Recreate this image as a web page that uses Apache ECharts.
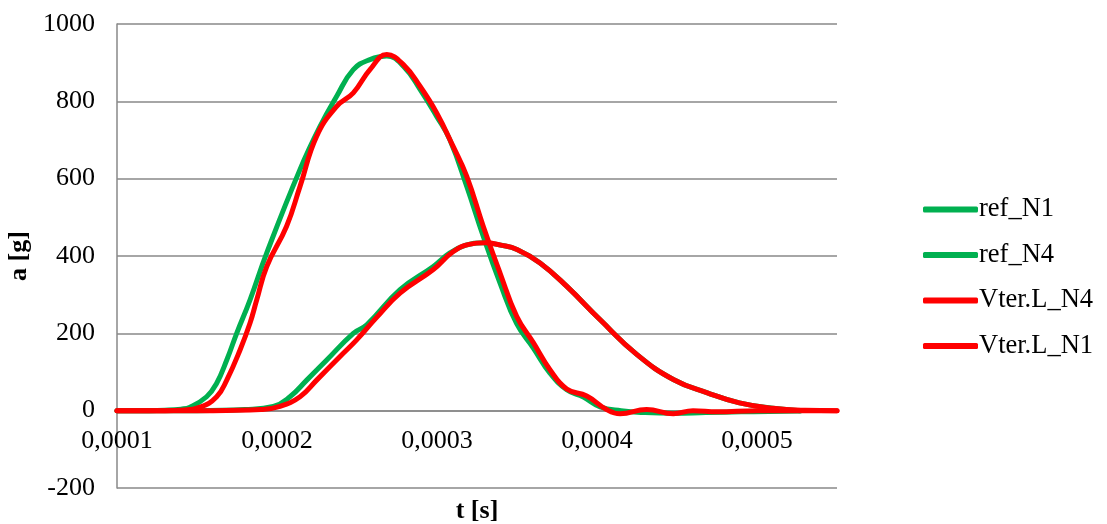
<!DOCTYPE html>
<html>
<head>
<meta charset="utf-8">
<script src="https://cdn.jsdelivr.net/npm/echarts@6/dist/echarts.min.js"></script>
<style>
html,body{margin:0;padding:0;background:#fff;}
#chart{width:1107px;height:524px;}
</style>
</head>
<body>
<div id="chart"></div>
<script>
// Data
var seriesNames = ['ref_N1', 'ref_N4', 'Vter.L_N4', 'Vter.L_N1'];

var refN1_t = [0.0001, 0.00012, 0.00013, 0.00014, 0.0001456, 0.000156, 0.0001623, 0.0001686, 0.0001748, 0.0001831, 0.0001936, 0.0002144, 0.0002269, 0.0002373, 0.0002477, 0.0002581, 0.0002686, 0.000279, 0.0002894, 0.0002998, 0.000308, 0.0003186, 0.0003289, 0.0003394, 0.0003498, 0.0003602, 0.0003706, 0.0003811, 0.0003915, 0.000402, 0.000415, 0.00043, 0.000448, 0.000468, 0.00049, 0.000527];
var refN1_a = [0, 0, 1, 4, 9, 36, 71, 131, 200, 286, 408, 624, 735, 813, 882, 908, 917, 891, 831, 761, 701, 580, 451, 330, 225, 162, 97, 54, 35, 10, 0, -5, -7, -5, -3, -1];

var refN4_t = [0.0001, 0.00015, 0.00018, 0.0001977, 0.0002081, 0.0002186, 0.0002311, 0.0002477, 0.0002561, 0.0002769, 0.0002977, 0.0003081, 0.000318, 0.000329, 0.00034, 0.00035, 0.0003644, 0.000381, 0.000402, 0.000425, 0.000448, 0.000469, 0.000489, 0.00051, 0.000527];
var refN4_a = [0, 0, 3, 11, 36, 79, 131, 200, 222, 313, 373, 408, 428, 434, 428, 417, 382, 322, 235, 145, 80, 46, 20, 6, 0];

var vterN4_t = [0.0001, 0.00016, 0.00019, 0.0002019, 0.0002144, 0.0002248, 0.0002394, 0.0002498, 0.000262, 0.0002769, 0.0002977, 0.00031, 0.00032, 0.00033, 0.00034, 0.00035, 0.0003644, 0.000381, 0.000402, 0.000425, 0.000448, 0.000469, 0.000489, 0.00051, 0.00053, 0.00055];
var vterN4_a = [0, 0, 3, 11, 36, 79, 140, 183, 240, 304, 365, 411, 430, 434, 428, 417, 382, 322, 235, 145, 80, 46, 20, 6, 1, 0];

var vterN1_t = [0.0001, 0.00013, 0.00014, 0.000152, 0.0001623, 0.0001686, 0.0001769, 0.0001831, 0.0001873, 0.0001936, 0.000206, 0.0002144, 0.0002248, 0.0002373, 0.0002477, 0.0002581, 0.0002686, 0.000279, 0.0002894, 0.0002998, 0.00031, 0.0003186, 0.0003289, 0.0003394, 0.0003498, 0.0003602, 0.0003706, 0.0003811, 0.0003936, 0.000406, 0.0004144, 0.000431, 0.0004477, 0.00046, 0.000475, 0.0005, 0.00055];
var vterN1_a = [0, 0, 1, 9, 36, 79, 157, 226, 286, 373, 477, 580, 710, 787, 822, 882, 921, 895, 839, 770, 684, 606, 477, 356, 244, 176, 106, 56, 38, 3, -8, 3, -8, 0, -3, 0, 0];

var xTickMin = 0.0001, xTickMax = 0.00055, xTickStep = 0.0001;
var yTickMin = -200, yTickMax = 1000, yTickStep = 200;

function pairs(t, a) { return t.map(function (v, i) { return [v, a[i]]; }); }

var FONT = "'Liberation Serif', 'Times New Roman', serif";
var GREEN = '#00B050', RED = '#FF0000', GRID = '#888888';

var GRID_TOP = 24, GRID_BOTTOM = 36, H = 524;
var plotH = H - GRID_TOP - GRID_BOTTOM;
// shift x axis up to the value 0 of the y axis
var zeroOffset = -plotH * (0 - yTickMin) / (yTickMax - yTickMin);

var chart = echarts.init(document.getElementById('chart'), null, { renderer: 'canvas' });

function lineSeries(name, data, color) {
  return {
    name: name, type: 'line', data: data, smooth: 0.45, showSymbol: false, symbol: 'none',
    lineStyle: { color: color, width: 5, cap: 'round', join: 'round' },
    itemStyle: { color: color }, animation: false
  };
}

chart.setOption({
  animation: false,
  backgroundColor: '#ffffff',
  grid: { left: 117, top: GRID_TOP, right: 270, bottom: GRID_BOTTOM, containLabel: false, outerBoundsMode: 'none' },
  legend: {
    orient: 'vertical', left: 918, top: 191,
    data: seriesNames,
    icon: 'roundRect', itemWidth: 55, itemHeight: 6, itemGap: 18.5,
    textStyle: { fontFamily: FONT, fontSize: 26.5, color: '#000', padding: [0, 0, 0, -4] }
  },
  xAxis: {
    type: 'value', min: xTickMin, max: xTickMax, interval: xTickStep,
    position: 'bottom', offset: zeroOffset,
    name: 't [s]', nameLocation: 'middle', nameGap: 88,
    nameTextStyle: { fontFamily: FONT, fontSize: 26, fontWeight: 'bold', color: '#000' },
    axisLine: { show: true, onZero: false, lineStyle: { color: GRID, width: 1.5 } },
    axisTick: { show: false },
    splitLine: { show: false },
    axisLabel: {
      fontFamily: FONT, fontSize: 26, color: '#000', margin: 18, showMaxLabel: false,
      formatter: function (v) { return v.toFixed(4).replace('.', ','); }
    }
  },
  yAxis: {
    type: 'value', min: yTickMin, max: yTickMax, interval: yTickStep,
    name: 'a [g]', nameLocation: 'middle', nameGap: 83,
    nameTextStyle: { fontFamily: FONT, fontSize: 26, fontWeight: 'bold', color: '#000' },
    axisLine: { show: true, onZero: false, lineStyle: { color: GRID, width: 1.5 } },
    axisTick: { show: false },
    splitLine: { show: true, lineStyle: { color: GRID, width: 1.5 } },
    axisLabel: { fontFamily: FONT, fontSize: 26, color: '#000', margin: 22,
      formatter: function (v) { return String(v); } }
  },
  series: [
    lineSeries('ref_N1', pairs(refN1_t, refN1_a), GREEN),
    lineSeries('ref_N4', pairs(refN4_t, refN4_a), GREEN),
    lineSeries('Vter.L_N4', pairs(vterN4_t, vterN4_a), RED),
    lineSeries('Vter.L_N1', pairs(vterN1_t, vterN1_a), RED)
  ]
});
</script>
</body>
</html>
